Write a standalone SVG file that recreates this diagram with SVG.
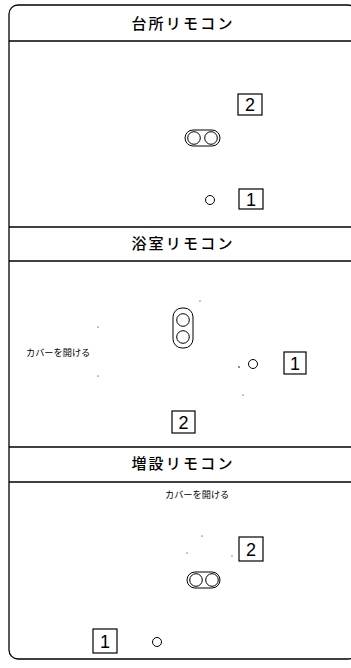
<svg xmlns="http://www.w3.org/2000/svg" width="351" height="668" viewBox="0 0 351 668">
<style>
.ln{fill:none;stroke:#000;stroke-width:1.3}
.th{fill:none;stroke:#000;stroke-width:1}
.title{font-family:"Noto Sans CJK JP","Noto Sans CJK SC",sans-serif;font-size:15px;font-weight:500;letter-spacing:2.2px;text-anchor:middle;fill:#000}
.small{font-family:"Noto Sans CJK JP","Noto Sans CJK SC",sans-serif;font-size:9.2px;fill:#000}
.num{font-family:"Liberation Sans",Arial,sans-serif;font-size:18px;text-anchor:middle;fill:#000}
.box{fill:#fff;stroke:#000;stroke-width:1.2}
.dot{fill:#000}
</style>
<rect id="frame" class="ln" x="9" y="5" width="348" height="654" rx="9"/>
<g id="kitchen">
<line class="ln" x1="9" y1="41" x2="351" y2="41"/>
<text class="title" x="183" y="29">台所リモコン</text>
<g id="k-box2"><rect class="box" x="238" y="94" width="24" height="21"/><text class="num" x="250" y="111">2</text></g>
<g id="k-pill"><rect class="th" x="185" y="130" width="35" height="16" rx="8"/><circle class="th" cx="194" cy="138" r="6.3"/><circle class="th" cx="211" cy="138" r="6.3"/></g>
<circle id="k-hole" class="th" cx="210" cy="200" r="4.5"/>
<g id="k-box1"><rect class="box" x="239" y="189" width="24" height="20"/><text class="num" x="251" y="206">1</text></g>
</g>
<g id="bath">
<line class="ln" x1="9" y1="227" x2="351" y2="227"/>
<line class="ln" x1="9" y1="261" x2="351" y2="261"/>
<text class="title" x="183" y="249">浴室リモコン</text>
<g id="b-pill"><rect class="th" x="173" y="308" width="20" height="40" rx="9"/><circle class="th" cx="183" cy="320" r="6.3"/><circle class="th" cx="183" cy="337" r="6.3"/></g>
<text class="small" x="26" y="356">カバーを開ける</text>
<circle class="dot" cx="98" cy="327" r="0.6"/>
<circle class="dot" cx="98" cy="376" r="0.6"/>
<circle class="dot" cx="200" cy="301" r="0.6"/>
<circle class="dot" cx="239" cy="367" r="0.8"/>
<circle class="dot" cx="243" cy="395" r="0.6"/>
<circle id="b-hole" class="th" cx="253" cy="364" r="4.5"/>
<g id="b-box1"><rect class="box" x="284" y="352" width="22" height="22"/><text class="num" x="295" y="370">1</text></g>
<g id="b-box2"><rect class="box" x="172" y="411" width="23" height="22"/><text class="num" x="183.5" y="429">2</text></g>
</g>
<g id="extra">
<line class="ln" x1="9" y1="447" x2="351" y2="447"/>
<line class="ln" x1="9" y1="482" x2="351" y2="482"/>
<text class="title" x="183" y="469">増設リモコン</text>
<text class="small" x="165" y="498">カバーを開ける</text>
<circle class="dot" cx="202" cy="536" r="0.6"/>
<circle class="dot" cx="187" cy="553" r="0.6"/>
<circle class="dot" cx="232" cy="556" r="0.6"/>
<g id="e-box2"><rect class="box" x="239" y="537" width="24" height="24"/><text class="num" x="251" y="556">2</text></g>
<g id="e-pill"><rect class="th" x="187" y="572" width="33" height="16" rx="8"/><circle class="th" cx="196" cy="580" r="6.3"/><circle class="th" cx="212" cy="580" r="6.3"/></g>
<g id="e-box1"><rect class="box" x="93" y="629" width="24" height="24"/><text class="num" x="105" y="648">1</text></g>
<circle id="e-hole" class="th" cx="157" cy="642" r="4.5"/>
</g>
</svg>
